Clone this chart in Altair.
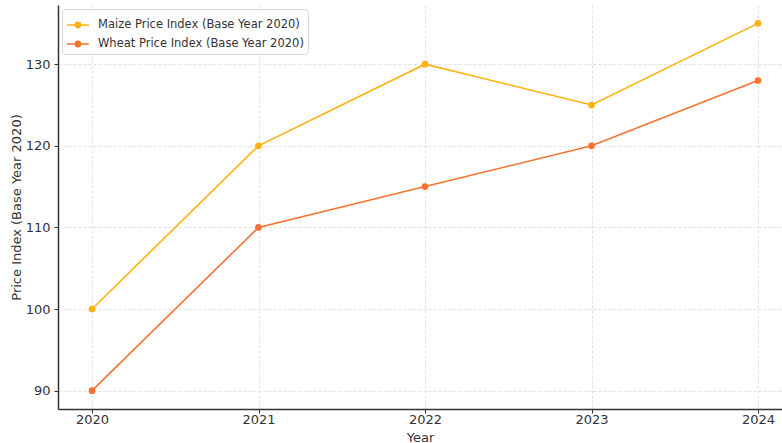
import altair as alt
import pandas as pd

# Price index values, base year 2020
years = [2020, 2021, 2022, 2023, 2024]
maize = [100, 120, 130, 125, 135]
wheat = [90, 110, 115, 120, 128]
series_names = ["Maize Price Index (Base Year 2020)", "Wheat Price Index (Base Year 2020)"]
series_colors = ["#FFB10F", "#F4732E"]

df = pd.concat([
    pd.DataFrame({"Year": years, "Index": maize, "Series": series_names[0]}),
    pd.DataFrame({"Year": years, "Index": wheat, "Series": series_names[1]}),
])

font = "DejaVu Sans"

# legend glyph: short line with a dot in the middle
glyph = "M-1,0H1M-0.24,0a0.24,0.24 0 1,0 0.48,0a0.24,0.24 0 1,0 -0.48,0Z"

x_enc = alt.X(
    "Year:Q",
    scale=alt.Scale(domain=[2019.7958, 2024.1441], nice=False, zero=False),
    axis=alt.Axis(values=years, format="d", title="Year"),
)
y_enc = alt.Y(
    "Index:Q",
    scale=alt.Scale(domain=[87.75, 137.25], nice=False, zero=False),
    axis=alt.Axis(values=[90, 100, 110, 120, 130], title="Price Index (Base Year 2020)"),
)
color_enc = alt.Color(
    "Series:N",
    scale=alt.Scale(domain=series_names, range=series_colors),
    legend=alt.Legend(
        title=None,
        orient="none",
        legendX=4,
        legendY=4,
        symbolType=glyph,
        symbolSize=480,
        symbolStrokeWidth=1.5,
        labelFont=font,
        labelFontSize=11.5,
        labelColor="#333333",
        labelLimit=0,
        fillColor="white",
        strokeColor="#d6d6d6",
        cornerRadius=4,
        padding=4,
        rowPadding=1,
        labelOffset=8,
    ),
)

base = alt.Chart(df).encode(x=x_enc, y=y_enc, color=color_enc)
lines = base.mark_line(strokeWidth=1.6)
points = base.mark_point(filled=True, size=45, opacity=1)

chart = (
    alt.layer(lines, points)
    .properties(
        width=724,
        height=404,
        autosize=alt.AutoSizeParams(type="none"),
        padding={"left": 58, "top": 5, "right": 0, "bottom": 34},
        background="white",
    )
    .configure_view(stroke=None)
    .configure_axis(
        labelFont=font,
        titleFont=font,
        labelFontSize=13,
        titleFontSize=13,
        labelColor="#333333",
        titleColor="#333333",
        titleFontWeight="normal",
        domainColor="#333333",
        domainWidth=1.5,
        tickColor="#333333",
        tickSize=4,
        gridColor="#d9d9d9",
        gridDash=[3, 2],
        gridWidth=0.8,
    )
    .configure_axisX(labelPadding=0, titleBaseline="alphabetic", titleY=32)
    .configure_axisY(labelPadding=4, titlePadding=2)
)

chart.save("out.html", embed_options={"renderer": "svg", "actions": False})
